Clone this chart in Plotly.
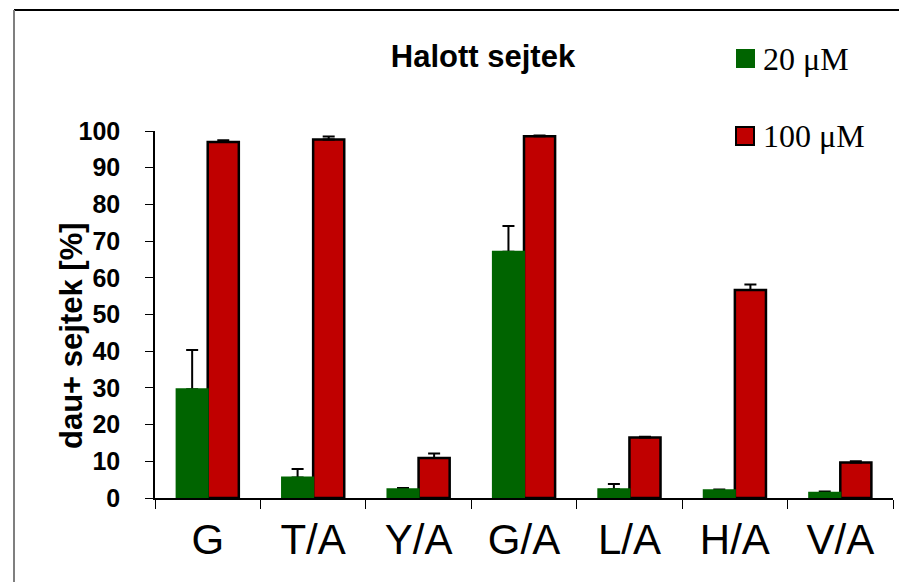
import plotly.graph_objects as go

# Data
categories = ["G", "T/A", "Y/A", "G/A", "L/A", "H/A", "V/A"]
vals_20 = [29.6, 5.6, 2.4, 67.1, 2.4, 2.1, 1.4]
err_20 = [10.7, 2.3, 0.3, 7.0, 1.4, 0.2, 0.4]
vals_100 = [97.0, 97.7, 10.9, 98.6, 16.5, 56.7, 9.7]
err_100 = [0.5, 0.8, 1.2, 0.2, 0.2, 1.5, 0.3]
series_names = ["20 μM", "100 μM"]
y_ticks = [0, 10, 20, 30, 40, 50, 60, 70, 80, 90, 100]

GREEN = "#006400"
RED = "#C00000"
W, H = 899, 584
# plot area in pixels
L, R, T, B = 155, 893, 131, 498


def px(x):
    return (x - L) / (R - L)


def py(y):
    return (B - y) / (B - T)


def err_bar(arr):
    return dict(type="data", array=arr, arrayminus=[0] * len(arr),
                symmetric=False, color="black", thickness=2, width=6)


fig = go.Figure()
fig.add_trace(go.Bar(
    x=categories, y=vals_20, name=series_names[0], offsetgroup="a",
    marker=dict(color=GREEN, line=dict(width=0)),
    error_y=err_bar(err_20), showlegend=False,
))
fig.add_trace(go.Bar(
    x=categories, y=vals_100, name=series_names[1], offsetgroup="b",
    marker=dict(color=RED, line=dict(color="black", width=2.5)),
    error_y=err_bar(err_100), showlegend=False,
))
# green bars repainted on top so only the upward whisker shows
fig.add_trace(go.Bar(
    x=categories, y=vals_20, name=series_names[0], offsetgroup="a",
    marker=dict(color=GREEN, line=dict(color=GREEN, width=2)),
    showlegend=False, hoverinfo="skip",
))

shapes = [
    # outer frame: top and left edges
    dict(type="line", xref="paper", yref="paper", x0=px(14), x1=px(899),
         y0=py(10), y1=py(10), line=dict(color="black", width=2)),
    dict(type="line", xref="paper", yref="paper", x0=px(14), x1=px(14),
         y0=py(10), y1=py(582), line=dict(color="#7f7f7f", width=2)),
    # legend swatches
    dict(type="rect", xref="paper", yref="paper", x0=px(736), x1=px(755),
         y0=py(68), y1=py(49), fillcolor=GREEN, line=dict(width=0)),
    dict(type="rect", xref="paper", yref="paper", x0=px(736), x1=px(754),
         y0=py(145), y1=py(127), fillcolor=RED, line=dict(color="black", width=2)),
]

legend_font = dict(family="Liberation Serif, Times New Roman", size=32, color="black")
annotations = [
    dict(text=series_names[0], xref="paper", yref="paper", x=px(761), y=py(59),
         xanchor="left", yanchor="middle", showarrow=False, font=legend_font),
    dict(text=series_names[1], xref="paper", yref="paper", x=px(761), y=py(136),
         xanchor="left", yanchor="middle", showarrow=False, font=legend_font),
    # y-axis title
    dict(text="dau+ sejtek [%]", xref="paper", yref="paper", x=px(71), y=py(336),
         xanchor="center", yanchor="middle", textangle=-90, showarrow=False,
         font=dict(family="Liberation Sans, Arial", size=31, color="black",
                   weight="bold")),
]

fig.update_layout(
    width=W, height=H,
    margin=dict(l=L, r=W - R, t=T, b=H - B),
    paper_bgcolor="white", plot_bgcolor="white",
    barmode="group", bargap=0.41, bargroupgap=0,
    title=dict(text="Halott sejtek", x=px(483), xref="paper",
               y=1 - 56 / H, yref="container", xanchor="center", yanchor="middle",
               font=dict(family="Liberation Sans, Arial", size=31, color="black",
                         weight="bold")),
    shapes=shapes,
    annotations=annotations,
    font=dict(family="Liberation Sans, Arial", color="black"),
)

fig.update_xaxes(
    showline=True, linecolor="black", linewidth=1.5,
    ticks="outside", tickson="boundaries", ticklen=9, tickcolor="black", tickwidth=1.2,
    tickfont=dict(family="Liberation Sans, Arial", size=42, color="black"),
    showgrid=False, zeroline=False, ticklabelstandoff=4,
)
fig.update_yaxes(
    range=[0, 100], tickvals=y_ticks,
    showline=True, linecolor="black", linewidth=1.5,
    ticks="outside", ticklen=8, tickcolor="black", tickwidth=1.2,
    tickfont=dict(family="Liberation Sans, Arial", size=25, color="black",
                  weight="bold"),
    ticklabelstandoff=20,
    showgrid=False, zeroline=False,
)

# keep the page exactly the size of the figure (no scrollbars)
page_css = ("document.documentElement.style.overflow='hidden';"
            "document.body.style.margin='0';document.body.style.overflow='hidden';")
fig.write_html("out.html", config={"displayModeBar": False}, post_script=page_css)
